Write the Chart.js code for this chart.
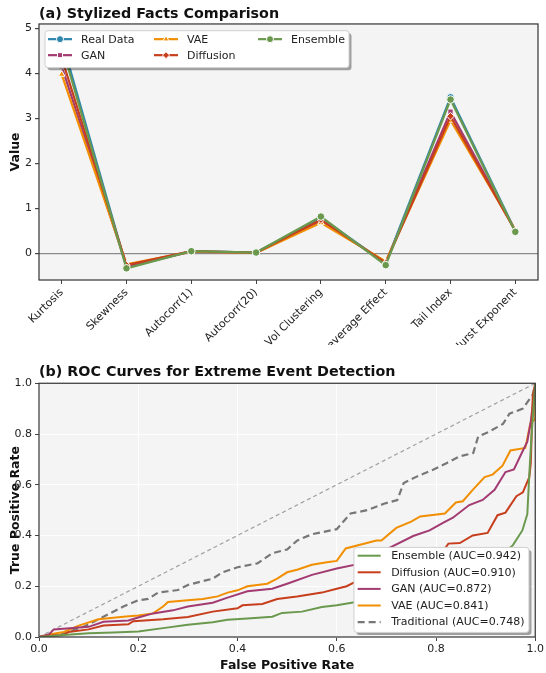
<!DOCTYPE html>
<html>
<head>
<meta charset="utf-8">
<script src="https://cdn.jsdelivr.net/npm/chart.js@4/dist/chart.umd.min.js"></script>
<style>
  html, body { margin: 0; padding: 0; background: #fff; }
  .box { position: absolute; left: 0; }
  #boxA { top: 0; }
  #boxB { top: 345px; }
</style>
</head>
<body>
<div class="box" id="boxA"><canvas id="chartA" width="546" height="345"></canvas></div>
<div class="box" id="boxB"><canvas id="chartB" width="546" height="328"></canvas></div>
<script>
// (a) stylized facts
const facts = ["Kurtosis", "Skewness", "Autocorr(1)", "Autocorr(20)", "Vol Clustering", "Leverage Effect", "Tail Index", "Hurst Exponent"];
const realData  = [4.75, -0.31, 0.05, 0.02, 0.80, -0.22, 3.47, 0.50];
const ganData   = [4.16, -0.28, 0.04, 0.01, 0.72, -0.20, 3.15, 0.51];
const vaeData   = [3.98, -0.24, 0.04, 0.01, 0.68, -0.18, 2.96, 0.52];
const diffData  = [4.35, -0.26, 0.05, 0.02, 0.75, -0.21, 3.05, 0.50];
const ensData   = [4.62, -0.33, 0.05, 0.02, 0.82, -0.26, 3.42, 0.48];
const valueTicks = [0, 1, 2, 3, 4, 5];

// (b) ROC curves
const ensFpr  = [0, 0.02, 0.05, 0.1, 0.15, 0.2, 0.25, 0.3, 0.35, 0.38, 0.42, 0.47, 0.49, 0.53, 0.57, 0.6, 0.63, 0.7, 0.8, 0.9, 0.955, 0.974, 0.984, 0.988, 0.992, 1.0];
const ensTpr  = [0, 0.003, 0.008, 0.015, 0.018, 0.022, 0.035, 0.048, 0.058, 0.068, 0.073, 0.08, 0.095, 0.1, 0.118, 0.125, 0.135, 0.16, 0.2, 0.27, 0.362, 0.42, 0.484, 0.64, 0.78, 1.0];
const diffFpr = [0, 0.02, 0.05, 0.06, 0.1, 0.13, 0.18, 0.19, 0.25, 0.3, 0.35, 0.4, 0.41, 0.45, 0.48, 0.52, 0.57, 0.6, 0.62, 0.65, 0.7, 0.75, 0.8, 0.825, 0.848, 0.874, 0.904, 0.924, 0.94, 0.962, 0.975, 0.988, 0.991, 0.995, 1.0];
const diffTpr = [0, 0.005, 0.008, 0.02, 0.03, 0.045, 0.05, 0.062, 0.07, 0.079, 0.1, 0.113, 0.125, 0.13, 0.15, 0.16, 0.175, 0.19, 0.2, 0.23, 0.255, 0.28, 0.3, 0.368, 0.37, 0.4, 0.41, 0.48, 0.49, 0.555, 0.57, 0.63, 0.684, 0.95, 1.0];
const ganFpr  = [0, 0.02, 0.03, 0.1, 0.13, 0.18, 0.2, 0.23, 0.27, 0.3, 0.35, 0.38, 0.42, 0.47, 0.5, 0.55, 0.6, 0.65, 0.7, 0.754, 0.787, 0.814, 0.834, 0.867, 0.894, 0.918, 0.94, 0.957, 0.974, 0.984, 0.991, 1.0];
const ganTpr  = [0, 0.01, 0.03, 0.04, 0.06, 0.065, 0.077, 0.093, 0.105, 0.12, 0.135, 0.155, 0.18, 0.19, 0.21, 0.245, 0.27, 0.29, 0.345, 0.398, 0.42, 0.45, 0.47, 0.52, 0.54, 0.58, 0.65, 0.66, 0.73, 0.77, 0.85, 1.0];
const vaeFpr  = [0, 0.02, 0.05, 0.08, 0.12, 0.17, 0.2, 0.23, 0.25, 0.26, 0.3, 0.33, 0.36, 0.38, 0.4, 0.42, 0.46, 0.48, 0.5, 0.52, 0.55, 0.58, 0.6, 0.618, 0.68, 0.69, 0.72, 0.75, 0.768, 0.818, 0.84, 0.854, 0.874, 0.898, 0.914, 0.934, 0.95, 0.98, 0.99, 1.0, 1.0];
const vaeTpr  = [0, 0.01, 0.02, 0.045, 0.07, 0.08, 0.085, 0.093, 0.12, 0.138, 0.145, 0.15, 0.16, 0.175, 0.184, 0.2, 0.21, 0.23, 0.255, 0.265, 0.285, 0.295, 0.3, 0.349, 0.38, 0.38, 0.43, 0.455, 0.475, 0.487, 0.53, 0.535, 0.58, 0.63, 0.64, 0.675, 0.735, 0.745, 0.84, 0.86, 1.0];
const tradFpr = [0, 0.02, 0.05, 0.09, 0.12, 0.17, 0.2, 0.22, 0.24, 0.28, 0.3, 0.35, 0.37, 0.4, 0.44, 0.47, 0.5, 0.52, 0.55, 0.6, 0.628, 0.662, 0.695, 0.722, 0.735, 0.762, 0.795, 0.822, 0.848, 0.875, 0.885, 0.908, 0.935, 0.948, 0.975, 0.995, 1.0];
const tradTpr = [0, 0.005, 0.015, 0.04, 0.07, 0.12, 0.145, 0.15, 0.175, 0.185, 0.205, 0.23, 0.255, 0.275, 0.29, 0.33, 0.345, 0.38, 0.405, 0.425, 0.487, 0.5, 0.525, 0.54, 0.607, 0.633, 0.66, 0.686, 0.712, 0.725, 0.79, 0.81, 0.84, 0.88, 0.9, 0.955, 1.0];
const rateTicks = [0, 0.2, 0.4, 0.6, 0.8, 1.0];

const COLORS = { real: "#2E86AB", gan: "#A23B72", vae: "#F18F01", diff: "#C73E1D", ens: "#6A994E" };

Chart.defaults.font.family = "'DejaVu Sans', sans-serif";
Chart.defaults.color = "#222";

const pts = (ys) => ys.map((y, i) => ({ x: i, y }));
const xy = (xs, ys) => xs.map((x, i) => ({ x, y: ys[i] }));

// grey panel + dark frame like the matplotlib axes
const frame = {
  id: "frame",
  beforeDraw(chart) {
    const { ctx, chartArea: a } = chart;
    ctx.save();
    ctx.fillStyle = "#f4f4f4";
    ctx.fillRect(a.left, a.top, a.right - a.left, a.bottom - a.top);
    ctx.restore();
  },
  afterDraw(chart) {
    const { ctx, chartArea: a } = chart;
    ctx.save();
    ctx.strokeStyle = "#333";
    ctx.lineWidth = 1.2;
    ctx.strokeRect(a.left, a.top, a.right - a.left, a.bottom - a.top);
    ctx.restore();
  }
};

// matplotlib-style legend box with columns and a drop shadow
const boxLegend = {
  id: "boxLegend",
  afterDraw(chart, args, o) {
    if (!o.items) return;
    const { ctx, chartArea: a } = chart;
    const x = o.fromRight ? a.right - o.dx - o.w : a.left + o.dx;
    const y = o.fromBottom ? a.bottom - o.dy - o.h : a.top + o.dy;
    ctx.save();
    const rr = (ox, oy) => {
      ctx.beginPath();
      if (ctx.roundRect) ctx.roundRect(x + ox, y + oy, o.w, o.h, 3);
      else ctx.rect(x + ox, y + oy, o.w, o.h);
    };
    rr(2.5, 2.5); ctx.fillStyle = "rgba(0,0,0,0.35)"; ctx.fill();
    rr(0, 0); ctx.fillStyle = "#fff"; ctx.fill();
    ctx.strokeStyle = "#d0d0d0"; ctx.lineWidth = 1; ctx.stroke();
    ctx.font = o.font;
    ctx.textBaseline = "middle";
    o.items.forEach((di, i) => {
      const ds = chart.data.datasets[di];
      const col = Math.floor(i / o.rows), row = i % o.rows;
      const hx = x + o.colX[col], hy = y + o.rowY0 + row * o.rowH;
      ctx.strokeStyle = ds.borderColor;
      ctx.lineWidth = ds.borderWidth;
      ctx.setLineDash(ds.borderDash || []);
      ctx.beginPath(); ctx.moveTo(hx, hy); ctx.lineTo(hx + o.handle, hy); ctx.stroke();
      ctx.setLineDash([]);
      if (o.markers && Chart.helpers && Chart.helpers.drawPoint) {
        ctx.fillStyle = ds.borderColor;
        ctx.strokeStyle = "#fff";
        ctx.lineWidth = 1;
        Chart.helpers.drawPoint(ctx, { pointStyle: ds.pointStyle, rotation: 0, radius: 3.5, borderWidth: 1 }, hx + o.handle / 2, hy);
      }
      ctx.fillStyle = "#222";
      ctx.fillText(ds.label, hx + o.textGap, hy + 0.5);
    });
    ctx.restore();
  }
};

const lineSet = (label, data, color, style, order) => ({
  label, data: pts(data), borderColor: color, backgroundColor: color,
  borderWidth: 2.2, pointStyle: style, pointRadius: 3.8,
  pointBackgroundColor: color, pointBorderColor: "#fff", pointBorderWidth: 1, order
});

new Chart(document.getElementById("chartA"), {
  type: "line",
  data: {
    datasets: [
      lineSet("Real Data", realData, COLORS.real, "circle", 5),
      lineSet("GAN", ganData, COLORS.gan, "rect", 4),
      lineSet("VAE", vaeData, COLORS.vae, "triangle", 3),
      lineSet("Diffusion", diffData, COLORS.diff, "rectRot", 2),
      lineSet("Ensemble", ensData, COLORS.ens, "circle", 1)
    ]
  },
  options: {
    responsive: false,
    animation: false,
    layout: { padding: { left: 0, right: 8, top: 0, bottom: 0 } },
    plugins: {
      legend: { display: false },
      tooltip: { enabled: false },
      title: {
        display: true, text: "(a) Stylized Facts Comparison", align: "start", fullSize: false,
        color: "#111", font: { size: 14.3, weight: "bold" }, padding: { top: 5.4, bottom: 1.4 }
      },
      boxLegend: {
        items: [0, 1, 2, 3, 4], rows: 2, colX: [3, 109, 213], rowY0: 8.5, rowH: 16,
        handle: 24, textGap: 33, markers: true, w: 304, h: 37, dx: 6, dy: 6.7,
        font: "11px 'DejaVu Sans'"
      }
    },
    scales: {
      x: {
        type: "linear", min: -0.35, max: 7.35,
        afterBuildTicks: (s) => { s.ticks = facts.map((f, i) => ({ value: i })); },
        afterFit: (s) => { s.height = 65; },
        ticks: { callback: (v) => facts[v], minRotation: 45, maxRotation: 45, autoSkip: false, font: { size: 11 }, color: "#222", padding: 2 },
        grid: { drawOnChartArea: false, tickLength: 4, tickColor: "#444" },
        border: { display: false }
      },
      y: {
        min: -0.59, max: 5.1,
        afterBuildTicks: (s) => { s.ticks = valueTicks.map((v) => ({ value: v })); },
        afterFit: (s) => { s.width = 39; },
        ticks: { font: { size: 11 }, color: "#222", padding: 3 },
        grid: {
          color: (c) => (c.tick && c.tick.value === 0 ? "#8a8a8a" : "rgba(0,0,0,0)"),
          lineWidth: 1.2, tickLength: 4, tickColor: "#444"
        },
        border: { display: false },
        title: { display: true, text: "Value", color: "#111", font: { size: 12.5, weight: "bold" }, padding: { top: 8, bottom: 0 } }
      }
    }
  },
  plugins: [frame, boxLegend]
});

const rocSet = (label, xs, ys, color, dash, width) => ({
  label, data: xy(xs, ys), borderColor: color, backgroundColor: color,
  borderWidth: width, borderDash: dash, pointRadius: 0, tension: 0
});

new Chart(document.getElementById("chartB"), {
  type: "line",
  data: {
    datasets: [
      rocSet("Ensemble (AUC=0.942)", ensFpr, ensTpr, COLORS.ens, [], 2),
      rocSet("Diffusion (AUC=0.910)", diffFpr, diffTpr, COLORS.diff, [], 2),
      rocSet("GAN (AUC=0.872)", ganFpr, ganTpr, COLORS.gan, [], 2),
      rocSet("VAE (AUC=0.841)", vaeFpr, vaeTpr, COLORS.vae, [], 2),
      rocSet("Traditional (AUC=0.748)", tradFpr, tradTpr, "#777", [7, 4], 2.2),
      rocSet("Random", [0, 1], [0, 1], "rgba(140,140,140,0.8)", [4, 3], 1.2)
    ]
  },
  options: {
    responsive: false,
    animation: false,
    layout: { padding: { left: 0, right: 0, top: 0, bottom: 0 } },
    plugins: {
      legend: { display: false },
      tooltip: { enabled: false },
      title: {
        display: true, text: "(b) ROC Curves for Extreme Event Detection", align: "start", fullSize: false,
        color: "#111", font: { size: 14.3, weight: "bold" }, padding: { top: 18.4, bottom: 2.7 }
      },
      boxLegend: {
        items: [0, 1, 2, 3, 4], rows: 5, colX: [3.7], rowY0: 8.3, rowH: 16.6,
        handle: 23, textGap: 33.5, markers: false, w: 175, h: 85, dx: 6.3, dy: 4.6,
        fromRight: true, fromBottom: true, font: "11px 'DejaVu Sans'"
      }
    },
    scales: {
      x: {
        type: "linear", min: 0, max: 1,
        afterBuildTicks: (s) => { s.ticks = rateTicks.map((v) => ({ value: v })); },
        afterFit: (s) => { s.height = 36; },
        ticks: { callback: (v) => v.toFixed(1), font: { size: 11 }, color: "#222", padding: 2, maxRotation: 0 },
        grid: { color: "rgba(255,255,255,0.9)", tickLength: 4, tickColor: "#444" },
        border: { display: false },
        title: { display: true, text: "False Positive Rate", color: "#111", font: { size: 12.5, weight: "bold" }, padding: { top: 2.5, bottom: 0 } }
      },
      y: {
        min: 0, max: 1,
        afterBuildTicks: (s) => { s.ticks = rateTicks.map((v) => ({ value: v })); },
        afterFit: (s) => { s.width = 39; },
        ticks: { callback: (v) => v.toFixed(1), font: { size: 11 }, color: "#222", padding: 3 },
        grid: { color: "rgba(255,255,255,0.9)", tickLength: 4, tickColor: "#444" },
        border: { display: false },
        title: { display: true, text: "True Positive Rate", color: "#111", font: { size: 12.5, weight: "bold" }, padding: { top: 8, bottom: 0 } }
      }
    }
  },
  plugins: [frame, boxLegend]
});
</script>
</body>
</html>
